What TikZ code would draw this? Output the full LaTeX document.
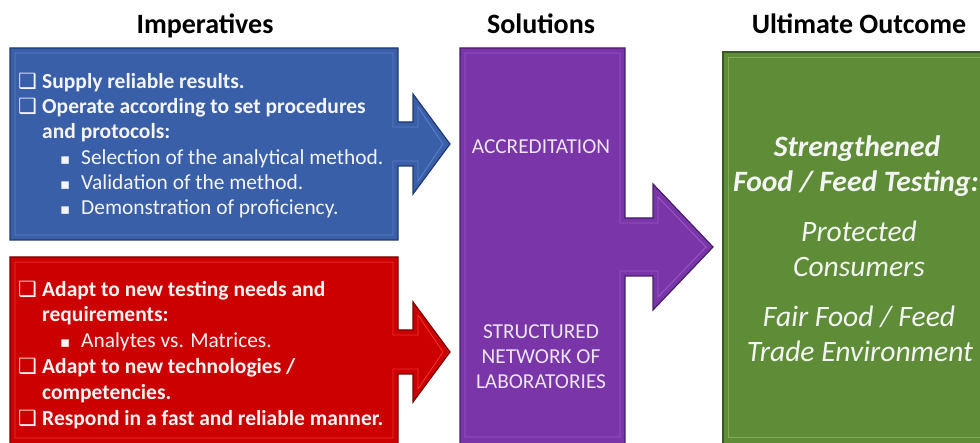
\documentclass[tikz,border=0pt]{standalone}
\usepackage{fontspec}
\setmainfont{Carlito}
\newfontfamily\dejavu{DejaVu Sans}
\definecolor{bluef}{HTML}{3A5FA9}
\definecolor{blued}{HTML}{1F3A70}
\definecolor{bluel}{HTML}{5A80C8}
\definecolor{redf}{HTML}{CC0000}
\definecolor{redd}{HTML}{7A0000}
\definecolor{redl}{HTML}{EE3333}
\definecolor{purf}{HTML}{7A35A8}
\definecolor{purd}{HTML}{45206A}
\definecolor{purl}{HTML}{9A55C8}
\definecolor{grnf}{HTML}{5E8C37}
\definecolor{grnd}{HTML}{365A1C}
\definecolor{grnl}{HTML}{7EAC57}
\definecolor{txt}{HTML}{F4F4F4}
\begin{document}
\begin{tikzpicture}[x=1pt,y=-1pt,
  lbl/.style={inner sep=0pt,anchor=base west,text=txt},
  hd/.style={inner sep=0pt,anchor=base,font=\fontsize{28}{32}\selectfont\bfseries,text=black},
  bt/.style={lbl,font=\fontsize{21.5}{25}\selectfont\bfseries},
  rt/.style={lbl,font=\fontsize{21.4}{25}\selectfont},
  cbx/.style={lbl,font=\dejavu\fontsize{21}{23}\selectfont},
  bul/.style={lbl,font=\dejavu\fontsize{15}{17}\selectfont},
  pt/.style={inner sep=0pt,anchor=base,text=txt!92!purf,font=\fontsize{21.3}{25}\selectfont},
  gt/.style={inner sep=0pt,anchor=base,text=txt,font=\fontsize{29.6}{33}\selectfont\itshape},
  gtb/.style={gt,font=\fontsize{29.6}{33}\selectfont\itshape\bfseries}]
\useasboundingbox (0,0) rectangle (980,443);
\fill[white] (0,0) rectangle (980,443);
\begin{scope}
\clip (0,0) rectangle (980,443);
% blue
\draw[fill=bluef,draw=blued,line width=1.2pt] (10,48) -- (398,48) -- (398,122) -- (413,122) -- (413,94) -- (450,144) -- (413,194) -- (413,166) -- (398,166) -- (398,240) -- (10,240) -- cycle;
\draw[bluel,line width=0.9pt] (15,53) -- (393,53) -- (393,127) -- (418,127) -- (418,107) -- (443,144) -- (418,181) -- (418,161) -- (393,161) -- (393,235) -- (15,235) -- cycle;
% red
\draw[fill=redf,draw=redd,line width=1.2pt] (10,257) -- (398,257) -- (398,330) -- (413,330) -- (413,302) -- (450,352) -- (413,402) -- (413,374) -- (398,374) -- (398,460) -- (10,460) -- cycle;
\draw[redl,line width=0.9pt] (15,262) -- (393,262) -- (393,335) -- (418,335) -- (418,315) -- (443,352) -- (418,389) -- (418,369) -- (393,369) -- (393,438) -- (15,438) -- cycle;
% purple
\draw[fill=purf,draw=purd,line width=1.2pt] (460,48) -- (625,48) -- (625,218) -- (653,218) -- (653,184) -- (713,247) -- (653,310) -- (653,276) -- (625,276) -- (625,460) -- (460,460) -- cycle;
\draw[purl,line width=0.9pt] (465,53) -- (620,53) -- (620,223) -- (658,223) -- (658,197) -- (706,247) -- (658,297) -- (658,271) -- (620,271) -- (620,437) -- (465,437) -- cycle;
% green
\draw[fill=grnf,draw=grnd,line width=1.2pt] (723,52) rectangle (1000,460);
\draw[grnl,line width=0.9pt] (728,57) rectangle (995,437);
\end{scope}
% headers
\node[hd] (h1) at (205,34) {Imperatives};
\node[hd] (h2) at (541,34) {Solutions};
\node[hd] (h3) at (859,34) {Ultimate Outcome};
% blue text
\node[cbx] (bc1) at (18,89) {❑};
\node[bt] (b1) at (42,89) {Supply reliable results.};
\node[cbx] (bc2) at (18,114) {❑};
\node[bt] (b2) at (42,114) {Operate according to set procedures};
\node[bt] (b3) at (42,139) {and protocols:};
\node[bul] (bb1) at (60,165) {▪};
\node[rt] (b4) at (81,165) {Selection of the analytical method.};
\node[bul] (bb2) at (60,190) {▪};
\node[rt] (b5) at (81,190) {Validation of the method.};
\node[bul] (bb3) at (60,215) {▪};
\node[rt] (b6) at (81,215) {Demonstration of proficiency.};
% red text
\node[cbx] (rc1) at (18,297) {❑};
\node[bt] (r1) at (42,297) {Adapt to new testing needs and};
\node[bt] (r2) at (42,322) {requirements:};
\node[bul] (rb1) at (60,348) {▪};
\node[rt] (r3) at (81,348) {Analytes vs. Matrices.};
\node[cbx] (rc2) at (18,374) {❑};
\node[bt] (r4) at (42,374) {Adapt to new technologies /};
\node[bt] (r5) at (42,400) {competencies.};
\node[cbx] (rc3) at (18,426) {❑};
\node[bt] (r6) at (42,426) {Respond in a fast and reliable manner.};
% purple text
\node[pt] (p1) at (541,154) {ACCREDITATION};
\node[pt] (p2) at (541,339) {STRUCTURED};
\node[pt] (p3) at (541,364) {NETWORK OF};
\node[pt] (p4) at (541,389) {LABORATORIES};
% green text
\node[gtb] (g1) at (857,157) {Strengthened};
\node[gtb] (g2) at (856,192) {Food / Feed Testing:};
\node[gt] (g3) at (859,242) {Protected};
\node[gt] (g4) at (859,277) {Consumers};
\node[gt] (g5) at (859,327) {Fair Food / Feed};
\node[gt] (g6) at (860,362) {Trade Environment};
\end{tikzpicture}
\end{document}
